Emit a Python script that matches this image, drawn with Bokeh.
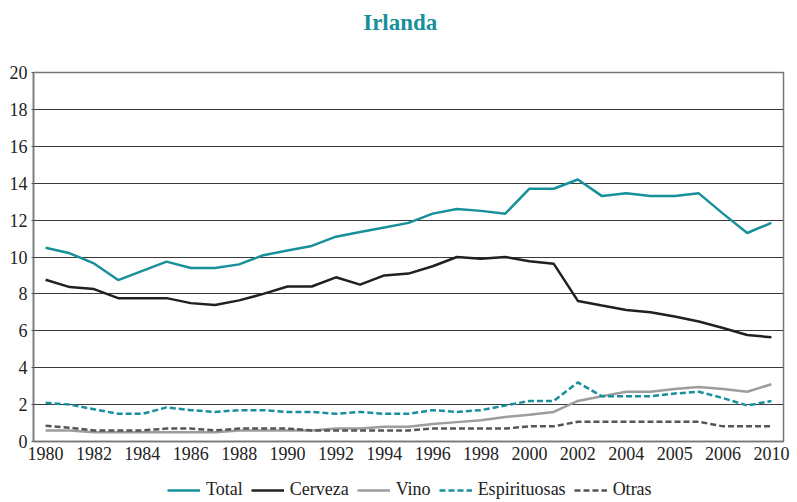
from bokeh.plotting import figure
from bokeh.models import Legend, LegendItem, FixedTicker, Label
from bokeh.layouts import column
from bokeh.embed import file_html
from bokeh.resources import INLINE

tick_labels = ["1980", "1982", "1984", "1986", "1988", "1990", "1992", "1994",
               "1996", "1998", "2000", "2002", "2004", "2005", "2006", "2010"]
# 31 observation points; every other one carries a label
x_idx = list(range(31))

total = [10.5, 10.2, 9.65, 8.75, 9.25, 9.75, 9.4, 9.4, 9.6, 10.1, 10.35, 10.6, 11.1,
         11.35, 11.6, 11.85, 12.35, 12.6, 12.5, 12.35, 13.7, 13.7, 14.2, 13.3, 13.45,
         13.3, 13.3, 13.45, 12.35, 11.3, 11.85]
cerveza = [8.77, 8.37, 8.26, 7.77, 7.77, 7.77, 7.5, 7.4, 7.65, 8.0, 8.4, 8.4, 8.9,
           8.5, 9.0, 9.1, 9.5, 10.0, 9.9, 10.0, 9.77, 9.64, 7.62, 7.37, 7.13, 7.0,
           6.77, 6.5, 6.15, 5.77, 5.65]
vino = [0.6, 0.6, 0.5, 0.5, 0.5, 0.5, 0.5, 0.5, 0.6, 0.6, 0.6, 0.6, 0.7, 0.7, 0.8,
        0.8, 0.95, 1.05, 1.15, 1.33, 1.45, 1.6, 2.2, 2.45, 2.7, 2.7, 2.85, 2.95,
        2.85, 2.7, 3.1]
espirituosas = [2.1, 2.0, 1.75, 1.5, 1.5, 1.85, 1.7, 1.6, 1.7, 1.7, 1.6, 1.6, 1.5,
                1.6, 1.5, 1.5, 1.7, 1.6, 1.7, 1.95, 2.2, 2.2, 3.2, 2.45, 2.45, 2.45,
                2.6, 2.7, 2.35, 1.95, 2.2]
otras = [0.85, 0.75, 0.6, 0.6, 0.6, 0.7, 0.7, 0.6, 0.7, 0.7, 0.7, 0.6, 0.6, 0.6,
         0.6, 0.6, 0.7, 0.7, 0.7, 0.7, 0.82, 0.82, 1.07, 1.07, 1.07, 1.07, 1.07,
         1.07, 0.82, 0.82, 0.82]

series_names = ["Total", "Cerveza", "Vino", "Espirituosas", "Otras"]
title_text = "Irlanda"
y_ticks = list(range(0, 21, 2))

TEAL = "#17909b"
FONT = "Liberation Serif"
W = 797
LW = 2.5
styles = [
    dict(line_color=TEAL, line_width=LW),
    dict(line_color="#231f20", line_width=LW),
    dict(line_color="#9d9d9d", line_width=LW),
    dict(line_color=TEAL, line_width=LW, line_dash="6 3"),
    dict(line_color="#555555", line_width=LW, line_dash="6 3"),
]


def blank(fig):
    fig.axis.visible = False
    fig.grid.grid_line_color = None
    fig.outline_line_color = None
    fig.background_fill_color = "white"
    fig.border_fill_color = "white"


# --- title strip ---
TH = 44
p0 = figure(width=W, height=TH, x_range=(0, 1), y_range=(0, TH),
            output_backend="svg", toolbar_location=None,
            min_border=0)
blank(p0)
p0.add_layout(Label(x=0.489, y=TH - 22, text=title_text,
                    text_align="center", text_baseline="middle",
                    text_font=FONT, text_font_size="23px", text_font_style="bold",
                    text_color=TEAL))

# --- main chart ---
p = figure(width=W, height=422, x_range=(-0.5, 30.5), y_range=(0, 20),
           output_backend="svg", toolbar_location=None,
           min_border_left=33, min_border_right=14, min_border_top=28,
           min_border_bottom=25)

p.background_fill_color = "white"
p.border_fill_color = "white"
p.outline_line_color = "#777777"
p.outline_line_width = 1.5

p.xgrid.grid_line_color = None
p.ygrid.grid_line_color = "#3a3a3a"
p.ygrid.grid_line_width = 1
p.ygrid.ticker = FixedTicker(ticks=y_ticks)

p.yaxis.ticker = FixedTicker(ticks=y_ticks)
p.yaxis.axis_line_color = "#777777"
p.yaxis.axis_line_width = 1.5
p.yaxis.major_tick_out = 2
p.yaxis.major_tick_in = 0
p.yaxis.major_tick_line_color = "#555555"
p.yaxis.minor_tick_line_color = None
p.yaxis.minor_tick_out = 0
p.yaxis.major_label_standoff = 4
p.yaxis.major_label_text_font = FONT
p.yaxis.major_label_text_font_size = "18px"
p.yaxis.major_label_text_color = "#222222"

p.xaxis.ticker = FixedTicker(ticks=x_idx[::2])
p.xaxis.major_label_overrides = {i: lab for i, lab in zip(x_idx[::2], tick_labels)}
p.xaxis.axis_line_color = "#777777"
p.xaxis.axis_line_width = 1.5
p.xaxis.major_tick_line_color = None
p.xaxis.major_tick_out = 0
p.xaxis.major_tick_in = 0
p.xaxis.minor_tick_line_color = None
p.xaxis.minor_tick_out = 0
p.xaxis.major_label_standoff = 5
p.xaxis.major_label_text_font = FONT
p.xaxis.major_label_text_font_size = "18px"
p.xaxis.major_label_text_color = "#222222"

for vals, st in zip([total, cerveza, vino, espirituosas, otras], styles):
    p.line(x_idx, vals, **st)

# --- legend strip (legend swatches use off-range proxy lines) ---
LH = 36
p2 = figure(width=W, height=LH, x_range=(0, 1), y_range=(0, 1),
            output_backend="svg", toolbar_location=None, min_border=0)
blank(p2)
items = []
for name, st in zip(series_names, styles):
    r = p2.line([5, 6], [5, 5], **st)
    items.append(LegendItem(label=name, renderers=[r]))
legend = Legend(items=items, orientation="horizontal", location=(134, 2))
legend.glyph_width = 33
legend.glyph_height = 14
legend.label_standoff = 6
legend.spacing = 8
legend.padding = 0
legend.margin = 0
legend.border_line_color = None
legend.background_fill_alpha = 0
legend.label_text_font = FONT
legend.label_text_font_size = "18px"
legend.label_text_color = "#222222"
legend.label_height = 18
p2.add_layout(legend)

layout = column(p0, p, p2, spacing=0)
open("out.html", "w").write(file_html(layout, INLINE))
